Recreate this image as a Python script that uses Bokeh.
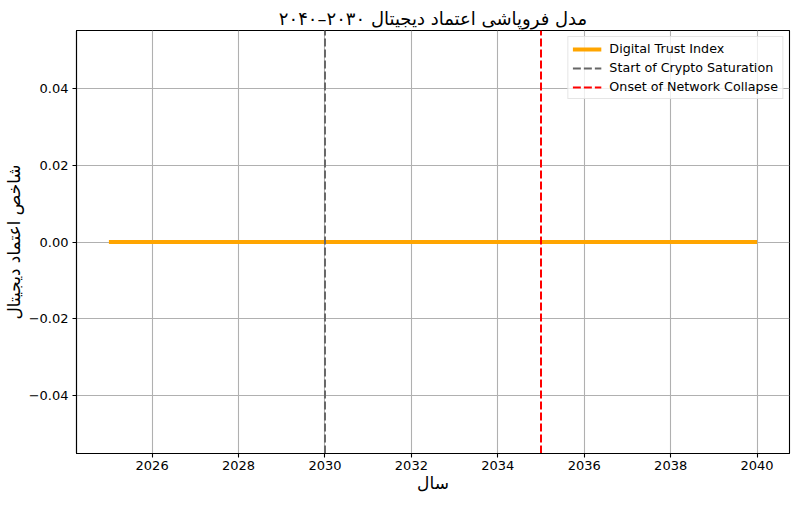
from bokeh.plotting import figure
from bokeh.models import Legend, LegendItem, FixedTicker, Range1d
from bokeh.embed import file_html
from bokeh.resources import INLINE

# ---- data ----
years = [2025, 2026, 2027, 2028, 2029, 2030, 2031, 2032, 2033, 2034,
         2035, 2036, 2037, 2038, 2039, 2040]
trust_index = [0.0, 0.0, 0.0, 0.0, 0.0, 0.0, 0.0, 0.0, 0.0, 0.0,
               0.0, 0.0, 0.0, 0.0, 0.0, 0.0]
event_years = [2030, 2035]
event_labels = ["Start of Crypto Saturation", "Onset of Network Collapse"]
event_colors = ["#666666", "red"]
series_label = "Digital Trust Index"
x_ticks = [2026, 2028, 2030, 2032, 2034, 2036, 2038, 2040]
y_ticks = [-0.04, -0.02, 0.0, 0.02, 0.04]
y_tick_labels = ["\u22120.04", "\u22120.02", "0.00", "0.02", "0.04"]
title_text = "مدل فروپاشی اعتماد دیجیتال ۲۰۳۰–۲۰۴۰"
x_label = "سال"
y_label = "شاخص اعتماد دیجیتال"

FONT = "DejaVu Sans"
Y_LO, Y_HI = -0.055, 0.055

span_x = max(years) - min(years)
p = figure(
    frame_width=713, frame_height=423,
    output_backend="svg", toolbar_location=None,
    x_range=Range1d(min(years) - 0.05 * span_x, max(years) + 0.05 * span_x),
    y_range=Range1d(Y_LO, Y_HI),
    min_border_left=70, min_border_right=2, min_border_top=30, min_border_bottom=36,
)
p.background_fill_color = "white"
p.border_fill_color = "white"
p.outline_line_color = "black"
p.outline_line_width = 1.1

# title
p.title.text = title_text
p.title.align = "center"
p.title.text_font = FONT
p.title.text_font_size = "18px"
p.title.text_font_style = "normal"
p.title.text_color = "black"
p.title.standoff = 3

# axes
for ax in (p.xaxis[0], p.yaxis[0]):
    ax.axis_line_color = "black"
    ax.axis_line_width = 1.1
    ax.major_tick_line_color = "black"
    ax.major_tick_line_width = 1.1
    ax.major_tick_out = 4
    ax.major_tick_in = 0
    ax.minor_tick_line_color = None
    ax.major_label_text_font = FONT
    ax.major_label_text_font_size = "13px"
    ax.major_label_text_color = "black"
    ax.major_label_standoff = 4
    ax.axis_label_text_font = FONT
    ax.axis_label_text_font_size = "17px"
    ax.axis_label_text_font_style = "normal"
    ax.axis_label_text_color = "black"
    ax.axis_label_standoff = 2
p.xaxis.major_label_standoff = 3
p.xaxis.axis_label_standoff = 0

p.xaxis.ticker = FixedTicker(ticks=x_ticks)
p.yaxis.ticker = FixedTicker(ticks=y_ticks)
p.yaxis.major_label_overrides = {t: l for t, l in zip(y_ticks, y_tick_labels)}
p.xaxis.axis_label = x_label
p.yaxis.axis_label = y_label

# grid
for g in (p.xgrid[0], p.ygrid[0]):
    g.grid_line_color = "#b0b0b0"
    g.grid_line_width = 1.1

# main series
r_main = p.line(years, trust_index, line_color="orange", line_width=4.2)
items = [LegendItem(label=series_label, renderers=[r_main])]

# event lines (vertical, spanning the full y axis)
for yr, lab, col in zip(event_years, event_labels, event_colors):
    r = p.segment(x0=[yr], y0=[Y_LO], x1=[yr], y1=[Y_HI],
                  line_color=col, line_width=2, line_dash="8 3")
    items.append(LegendItem(label=lab, renderers=[r]))

legend = Legend(items=items, location="top_right")
legend.label_text_font = FONT
legend.label_text_font_size = "12.7px"
legend.label_text_color = "black"
legend.border_line_color = "#cccccc"
legend.border_line_width = 1
legend.background_fill_alpha = 0.8
legend.glyph_width = 29
legend.glyph_height = 14
legend.label_standoff = 8
legend.spacing = 4
legend.padding = 4
legend.margin = 6
legend.label_height = 14
p.add_layout(legend)

open("out.html", "w").write(file_html(p, INLINE))
